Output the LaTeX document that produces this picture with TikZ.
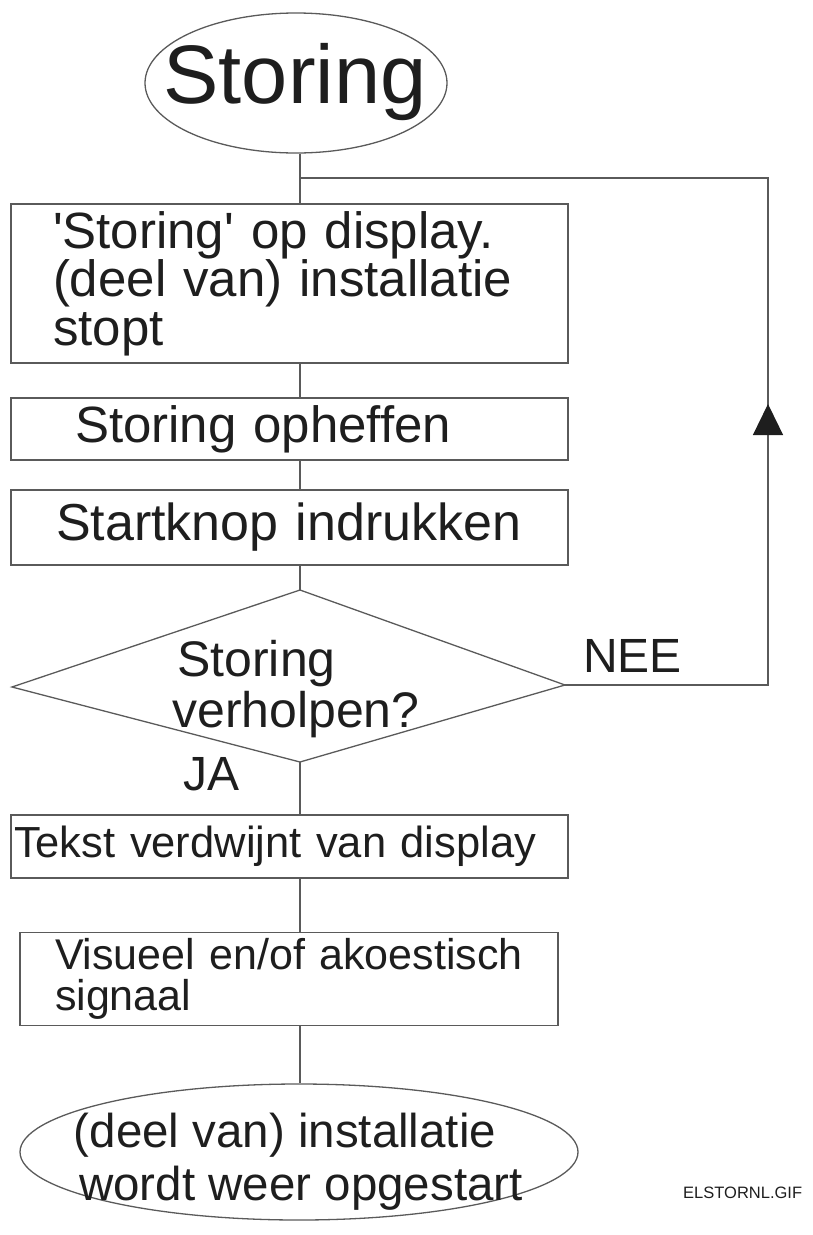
\documentclass[tikz,border=0pt]{standalone}
\usepackage{fontspec}
\setmainfont{Liberation Sans}
\usetikzlibrary{shapes.geometric,arrows.meta}
\definecolor{ink}{HTML}{1E1E1E}
\definecolor{rule}{HTML}{5A5A5A}
\begin{document}
\begin{tikzpicture}[x=1pt,y=-1pt,
  line/.style={draw=rule,line width=1.3pt},
  stepbox/.style={draw=rule,line width=1.3pt,rectangle,align=left,inner ysep=0pt,
    text=ink,font=\fontsize{51}{48.5}\selectfont},
  terminal/.style={draw=rule,line width=1.3pt,ellipse,inner sep=0pt},
  caption/.style={text=ink,inner sep=0pt,align=center},
  lbl/.style={text=ink,inner sep=0pt,anchor=base west}]
\useasboundingbox (0,0) rectangle (812,1235);

% vertical spine of the flow
\coordinate (spine) at (300,0);

% start terminal
\node[terminal,minimum width=302pt,minimum height=140pt] (start) at (296,83) {};
\node[caption,font=\fontsize{83}{83}\selectfont] (startText) at (295,82) {Storing};

% process steps
\node[stepbox,minimum width=557pt,minimum height=159pt,inner xsep=42pt,text width=473pt]
  (box1) at (289.5,283.5)
  {\textquotesingle Storing\textquotesingle{} op display.\\(deel van) installatie\\stopt};
\node[stepbox,minimum width=557pt,minimum height=62pt,inner xsep=64pt,text width=429pt]
  (box2) at (289.5,429) {Storing opheffen};
\node[stepbox,minimum width=557pt,minimum height=75pt,inner xsep=45pt,text width=467pt,
  font=\fontsize{52}{50}\selectfont]
  (box3) at (289.5,527.5) {Startknop indrukken};

% decision
\coordinate (dtop) at (300,590);
\coordinate (dleft) at (12,687);
\coordinate (dright) at (565,685);
\coordinate (dbottom) at (300,762);
\draw[line,line join=miter] (dtop) -- (dright) -- (dbottom) -- (dleft) -- cycle;
\node[lbl,align=left,font=\fontsize{50}{51}\selectfont] (question) at (172,727)
  {\hspace*{5pt}Storing\\verholpen?};
\node[lbl,font=\fontsize{48}{48}\selectfont] (nee) at (583,672) {NEE};
\node[lbl,font=\fontsize{48}{48}\selectfont] (ja) at (183,790) {JA};

% steps after a successful reset
\node[stepbox,minimum width=557pt,minimum height=63pt,inner xsep=3pt,text width=551pt,
  font=\fontsize{43.5}{44}\selectfont]
  (box4) at (289.5,846.5) {Tekst verdwijnt van display};
\node[stepbox,minimum width=538pt,minimum height=93pt,inner xsep=35pt,text width=468pt,
  font=\fontsize{43}{41}\selectfont]
  (box5) at (289,979) {Visueel en/of akoestisch\\signaal};

% end terminal
\node[terminal,minimum width=558pt,minimum height=136pt] (finish) at (299,1152) {};
\node[caption,font=\fontsize{47.5}{53}\selectfont] (finishText) at (291,1162)
  {(deel van) installatie\hspace*{12pt}\\\hspace*{20pt}wordt weer opgestart};

% file name tag
\node[lbl,font=\fontsize{16.5}{18}\selectfont] (tag) at (683,1198) {ELSTORNL.GIF};

% connectors along the spine
\draw[line] (start.south -| spine) -- (box1.north -| spine);
\draw[line] (box1.south -| spine) -- (box2.north -| spine);
\draw[line] (box2.south -| spine) -- (box3.north -| spine);
\draw[line] (box3.south -| spine) -- (dtop);
\draw[line] (dbottom) -- (box4.north -| spine);
\draw[line] (box4.south -| spine) -- (box5.north -| spine);
\draw[line] (box5.south -| spine) -- (finish.north -| spine);

% feedback loop for NEE
\coordinate (loopR) at (768,685);
\coordinate (loopTR) at (768,178);
\coordinate (loopL) at (300,178);
\coordinate (loopTip) at (768,404);
\draw[line] (dright) -- (loopR) -- (loopTR) -- (loopL);
\draw[line,-{Triangle[length=31pt,width=30pt,color=ink]}] (loopR) -- (loopTip);
\end{tikzpicture}
\end{document}
